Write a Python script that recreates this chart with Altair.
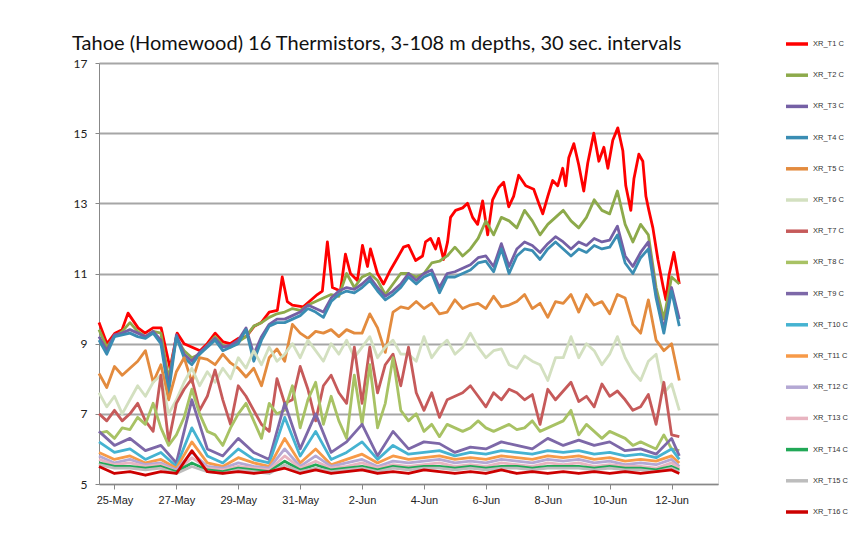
import altair as alt
import pandas as pd

TITLE = "Tahoe (Homewood) 16 Thermistors, 3-108 m depths, 30 sec. intervals"
START = pd.Timestamp("2014-05-24 12:00")

names = [f"XR_T{i} C" for i in range(1, 17)]
colors = ["#FF0000", "#8DAA4B", "#7560A5", "#3A8DB3", "#E38B3E", "#D3E0C0",
          "#C65A5A", "#A8C264", "#7D68A8", "#45B3D1", "#F79A48", "#B4A8D4",
          "#E8B4C0", "#21A857", "#BDBDBD", "#CC0000"]

# ---- T1 (3 m): readings taken at irregular times, hours after 24-May 12:00 ----
T1_hours = [0, 6.2, 12.4, 17.9, 22.5, 30.3, 35.7, 41.9, 48.2, 55.1,
            60.6, 66.0, 72.2, 78.4, 83.9, 90.1, 96.3, 101.7, 108.0, 114.2,
            120.4, 125.8, 132.0, 138.3, 142.1, 146.0, 149.9, 158.4, 169.3, 173.2,
            177.1, 181.0, 187.2, 191.1, 195.0, 200.4, 204.3, 208.2, 210.5, 215.9,
            220.6, 226.0, 231.5, 236.1, 240.0, 245.5, 250.9, 253.2, 257.1, 261.0,
            263.3, 267.2, 270.3, 272.6, 276.5, 282.0, 285.8, 289.7, 293.6, 297.5,
            301.4, 305.2, 309.9, 313.8, 317.7, 321.5, 325.4, 330.9, 337.1, 341.0,
            344.1, 348.0, 351.8, 355.7, 359.6, 361.9, 364.3, 368.2, 372.0, 375.9,
            379.0, 383.7, 387.6, 391.5, 394.6, 398.4, 402.3, 406.2, 408.5, 412.4,
            414.8, 418.6, 421.7, 424.1, 426.4, 429.5, 433.4, 437.3, 439.6, 442.0,
            445.8, 450.0]
T1 = [9.6, 9.0, 9.3, 9.4, 9.87, 9.45, 9.3, 9.45, 9.45, 8.3,
      9.3, 9.0, 8.9, 8.8, 9.0, 9.3, 9.05, 9.0, 9.15, 9.2,
      9.5, 9.6, 9.9, 9.95, 10.9, 10.2, 10.1, 10.05, 10.4, 10.5,
      11.9, 10.6, 10.5, 11.55, 11.0, 10.8, 11.8, 11.2, 11.7, 11.0,
      10.7, 11.1, 11.45, 11.75, 11.8, 11.37, 11.5, 11.9, 12.0, 11.7,
      12.0, 11.4, 11.9, 12.6, 12.8, 12.87, 13.0, 12.6, 12.4, 13.07,
      12.1, 13.1, 13.45, 13.6, 12.9, 13.2, 13.8, 13.5, 13.4, 13.0,
      12.7, 13.2, 13.65, 13.5, 14.0, 13.5, 14.3, 14.7, 14.1, 13.35,
      14.15, 15.0, 14.2, 14.6, 14.0, 14.8, 15.15, 14.5, 13.5, 12.8,
      13.7, 14.4, 14.2, 13.2, 12.8, 12.3, 11.4, 10.65, 10.25, 10.95,
      11.6, 10.7]

# ---- T2-T8: one reading every 6 h ----
T2 = [9.4, 8.9, 9.2, 9.35, 9.6, 9.35, 9.2, 9.35, 9.3, 8.0,
      9.15, 8.8, 8.6, 8.7, 8.95, 9.2, 8.95, 8.9, 9.05, 9.2,
      9.5, 9.6, 9.75, 9.85, 9.9, 10.0, 9.95, 10.1, 10.2, 10.3,
      10.4, 10.35, 11.0, 10.6, 10.9, 11.0, 10.8, 10.4, 10.7, 11.0,
      11.0, 10.9, 11.0, 11.3, 11.35, 11.5, 11.75, 11.5, 11.7, 12.0,
      12.5, 12.1, 12.6, 12.5, 12.3, 12.8, 12.5, 12.1, 12.4, 12.6,
      12.8, 12.5, 12.3, 12.6, 13.1, 12.8, 12.7, 13.35, 12.4, 11.9,
      12.4, 12.1, 10.6, 9.7, 10.9, 10.7]
T3 = [9.2, 8.8, 9.25, 9.3, 9.4, 9.3, 9.2, 9.35, 9.1, 7.8,
      9.25, 8.7, 8.5, 8.75, 8.95, 9.15, 8.9, 8.95, 9.1, 9.45,
      8.7, 9.2, 9.55, 9.7, 9.7, 9.8, 9.9, 10.1, 10.0, 9.9,
      10.3, 10.5, 10.6, 10.55, 10.7, 10.9, 10.6, 10.35, 10.5, 10.7,
      11.0, 10.8, 11.0, 11.1, 10.6, 11.0, 11.05, 11.15, 11.25, 11.45,
      11.5, 11.2, 11.85, 11.2, 11.7, 11.9, 11.8, 11.6, 11.85, 12.05,
      11.9, 11.7, 11.9, 11.8, 12.0, 11.9, 11.95, 12.35, 11.5, 11.2,
      11.6, 11.9, 10.4, 9.4, 10.6, 9.7]
T4 = [9.1, 8.7, 9.2, 9.25, 9.3, 9.2, 9.15, 9.3, 9.0, 7.6,
      9.2, 8.6, 8.4, 8.7, 8.9, 9.1, 8.8, 8.9, 9.0, 9.4,
      8.5, 9.1, 9.5, 9.6, 9.6, 9.7, 9.8, 10.0, 9.9, 9.75,
      10.2, 10.4, 10.5, 10.45, 10.6, 10.8, 10.5, 10.25, 10.4, 10.6,
      10.9, 10.7, 10.9, 11.0, 10.45, 10.9, 10.9, 11.0, 11.1, 11.3,
      11.35, 11.05, 11.7, 11.0, 11.5, 11.7, 11.65, 11.4, 11.7, 11.9,
      11.7, 11.5, 11.7, 11.6, 11.8, 11.7, 11.75, 12.1, 11.3, 11.0,
      11.45, 11.7, 10.3, 9.3, 10.5, 9.5]
T5 = [8.15, 7.75, 8.35, 8.1, 8.3, 8.5, 8.8, 7.9, 8.4, 7.4,
      8.2, 8.6, 7.9, 8.6, 8.55, 8.4, 8.7, 8.45, 8.3, 8.05,
      8.3, 7.8, 8.6, 8.85, 8.5, 9.55, 9.3, 9.15, 9.35, 9.3,
      9.4, 9.2, 9.4, 9.3, 9.3, 9.85, 9.45, 8.75, 9.9, 10.05,
      10.0, 10.2, 10.0, 10.15, 9.85, 9.9, 10.25, 10.0, 10.1, 10.15,
      10.0, 10.35, 10.05, 10.1, 10.2, 10.4, 10.0, 10.15, 9.75, 10.2,
      10.15, 10.4, 9.9, 10.4, 10.1, 10.2, 9.85, 10.4, 10.3, 9.55,
      9.3, 10.25, 9.1, 8.8, 9.0, 7.95]
T6 = [7.6, 7.2, 7.5, 7.0, 7.4, 7.8, 7.5, 7.9, 8.1, 7.0,
      7.4, 7.9, 8.3, 7.8, 8.2, 7.9, 8.3, 8.0, 8.6, 8.3,
      8.8, 8.4, 8.9, 8.5, 8.7, 9.0, 8.6, 9.1, 8.8, 8.5,
      9.0, 8.7, 9.1, 8.6, 8.9, 9.2, 8.6, 8.9, 9.1, 8.7,
      8.7, 8.5, 9.2, 8.6, 8.9, 9.1, 8.7, 8.9, 9.3, 8.9,
      8.6, 8.8, 8.85, 8.4, 8.3, 8.65, 8.5, 8.4, 7.95, 8.6,
      8.6, 9.2, 8.6, 9.0, 8.8, 8.4, 8.7, 9.2, 8.6, 8.2,
      7.95, 8.5, 8.7, 7.6, 7.85, 7.1]
T7 = [7.0, 6.8, 7.1, 6.8, 7.0, 7.3, 6.8, 6.5, 8.1, 6.2,
      7.3, 7.7, 8.0, 7.1, 7.5, 8.25, 7.4, 6.7, 7.8, 7.5,
      7.1, 6.7, 6.5, 8.0, 7.3, 7.4, 8.35, 7.7, 6.8, 7.8,
      8.1, 7.6, 7.3, 8.9, 7.3, 8.9, 7.6, 8.4, 8.7, 7.8,
      8.9, 7.6, 7.1, 7.6, 6.9, 7.4, 7.5, 7.6, 7.8, 7.5,
      7.2, 7.6, 7.4, 7.7, 7.6, 7.4, 7.55, 6.7, 7.7, 7.4,
      7.65, 7.9, 7.35, 7.5, 7.2, 7.85, 7.5, 7.65, 7.4, 7.1,
      7.2, 7.55, 6.7, 7.9, 6.4, 6.35]
T8 = [6.45, 6.5, 6.3, 6.6, 6.55, 6.9, 6.7, 7.3, 6.6, 6.1,
      6.4, 6.9, 7.7, 7.0, 6.5, 6.4, 6.1, 6.6, 7.0, 7.3,
      6.8, 6.3, 7.3, 7.0, 7.1, 7.8, 6.6, 7.4, 7.9, 6.7,
      7.5, 6.8, 6.3, 8.1, 6.7, 8.4, 6.6, 7.3, 8.6, 7.1,
      6.8, 7.0, 6.5, 6.7, 6.35, 6.7, 6.6, 6.5, 6.6, 6.8,
      6.6, 6.5, 6.6, 6.7, 6.55, 6.6, 6.8, 6.5, 6.6, 6.7,
      6.8, 7.1, 6.4, 6.7, 6.5, 6.3, 6.5, 6.4, 6.3, 6.1,
      6.2, 6.1, 6.0, 6.4, 6.0, 5.95]

# ---- deep series (one reading every 12 h, last one at the end of record) ----
T9 = [6.5, 6.1, 6.3, 5.95, 6.1, 5.6, 7.4, 6.0, 5.8, 6.3,
      5.9, 5.7, 7.3, 6.0, 7.0, 5.9, 6.2, 6.7, 5.8, 6.5,
      6.0, 6.2, 6.15, 5.9, 6.05, 6.0, 6.2, 6.1, 6.0, 6.3,
      6.1, 6.25, 6.1, 6.2, 5.95, 6.0, 5.85, 6.3, 5.8]
T10 = [6.2, 5.9, 6.0, 5.7, 5.9, 5.5, 6.6, 5.8, 5.6, 6.0,
       5.7, 5.6, 6.9, 5.8, 6.5, 5.7, 5.9, 6.2, 5.7, 6.1,
       5.85, 5.9, 5.95, 5.8, 5.9, 5.85, 5.95, 5.9, 5.85, 5.95,
       5.9, 5.95, 5.85, 5.9, 5.8, 5.85, 5.75, 6.0, 5.7]
T11 = [5.9, 5.7, 5.8, 5.6, 5.7, 5.45, 6.2, 5.6, 5.5, 5.75,
       5.6, 5.5, 6.3, 5.6, 6.0, 5.55, 5.7, 5.85, 5.6, 5.8,
       5.7, 5.75, 5.8, 5.7, 5.75, 5.7, 5.8, 5.75, 5.7, 5.8,
       5.75, 5.8, 5.7, 5.75, 5.65, 5.7, 5.65, 5.8, 5.6]
T12 = [5.8, 5.6, 5.7, 5.55, 5.6, 5.4, 5.9, 5.5, 5.45, 5.6,
       5.5, 5.45, 6.0, 5.5, 5.8, 5.5, 5.6, 5.7, 5.5, 5.65,
       5.6, 5.65, 5.7, 5.6, 5.65, 5.6, 5.7, 5.65, 5.6, 5.7,
       5.65, 5.7, 5.6, 5.65, 5.55, 5.6, 5.55, 5.7, 5.5]
T13 = [5.7, 5.55, 5.6, 5.5, 5.55, 5.35, 5.75, 5.45, 5.4, 5.5,
       5.45, 5.4, 5.8, 5.45, 5.65, 5.45, 5.5, 5.6, 5.45, 5.55,
       5.5, 5.55, 5.6, 5.5, 5.55, 5.5, 5.6, 5.55, 5.5, 5.6,
       5.55, 5.6, 5.5, 5.55, 5.5, 5.5, 5.45, 5.6, 5.45]
T14 = [5.6, 5.5, 5.5, 5.45, 5.5, 5.35, 5.6, 5.4, 5.35, 5.45,
       5.4, 5.35, 5.65, 5.4, 5.55, 5.4, 5.45, 5.5, 5.4, 5.5,
       5.45, 5.5, 5.5, 5.45, 5.5, 5.45, 5.5, 5.5, 5.45, 5.5,
       5.5, 5.5, 5.45, 5.5, 5.45, 5.45, 5.4, 5.5, 5.4]
T15 = [5.55, 5.45, 5.45, 5.4, 5.45, 5.3, 5.5, 5.35, 5.3, 5.4,
       5.35, 5.3, 5.55, 5.35, 5.45, 5.35, 5.4, 5.45, 5.35, 5.45,
       5.4, 5.45, 5.45, 5.4, 5.45, 5.4, 5.45, 5.45, 5.4, 5.45,
       5.45, 5.45, 5.4, 5.45, 5.4, 5.4, 5.35, 5.45, 5.35]
T16 = [5.5, 5.3, 5.35, 5.25, 5.35, 5.3, 5.95, 5.35, 5.3, 5.35,
       5.3, 5.35, 5.45, 5.3, 5.4, 5.3, 5.35, 5.4, 5.3, 5.35,
       5.3, 5.4, 5.35, 5.3, 5.35, 5.3, 5.4, 5.3, 5.35, 5.3,
       5.35, 5.3, 5.35, 5.3, 5.35, 5.3, 5.35, 5.4, 5.3]

t1_times = [START + pd.Timedelta(hours=h) for h in T1_hours]
fine_times = [START + pd.Timedelta(hours=6 * i) for i in range(len(T2))]
coarse_times = [START + pd.Timedelta(hours=12 * i) for i in range(len(T9) - 1)] + [fine_times[-1]]

series = [T1, T2, T3, T4, T5, T6, T7, T8, T9, T10, T11, T12, T13, T14, T15, T16]
rows = []
for k, (name, vals) in enumerate(zip(names, series)):
    times = t1_times if k == 0 else (fine_times if k < 8 else coarse_times)
    for t, v in zip(times, vals):
        rows.append({"time": t.strftime("%Y-%m-%dT%H:%M:%S"), "temp": v, "series": name, "k": k})
df = pd.DataFrame(rows)

tick_dates = [alt.DateTime(year=2014, month=5, date=d) for d in (25, 27, 29, 31)] + \
             [alt.DateTime(year=2014, month=6, date=d) for d in (2, 4, 6, 8, 10, 12)]

x = alt.X("time:T",
          scale=alt.Scale(domain=[alt.DateTime(year=2014, month=5, date=24, hours=12),
                                  alt.DateTime(year=2014, month=6, date=13, hours=12)]),
          axis=alt.Axis(values=tick_dates, format="%-d-%b", title=None, grid=False,
                        labelFont="Liberation Sans", labelFontSize=11, labelColor="#222",
                        domainColor="#888", tickColor="#888", tickSize=5, labelPadding=5,
                        labelFlush=False))
y = alt.Y("temp:Q",
          scale=alt.Scale(domain=[5, 17], nice=False),
          axis=alt.Axis(values=[5, 7, 9, 11, 13, 15, 17], title=None, grid=True,
                        gridColor="#A6A6A6", gridWidth=2, domainColor="#888",
                        tickColor="#888", tickSize=4, labelPadding=8,
                        labelFont="Lato", labelFontSize=12, labelColor="#222"))

chart = alt.Chart(df).mark_line(strokeWidth=2.8, strokeJoin="round").encode(
    x=x, y=y,
    color=alt.Color("series:N",
                    scale=alt.Scale(domain=names, range=colors),
                    legend=alt.Legend(title=None, orient="none", legendX=685, legendY=-32,
                                      symbolType="stroke", symbolStrokeWidth=3.5, symbolSize=484,
                                      labelFont="Liberation Sans", labelFontSize=7.5,
                                      labelColor="#333", rowPadding=11.2, labelOffset=3)),
    detail="k:O",
).properties(
    width=619, height=421,
    title=alt.Title(TITLE, anchor="start", frame="group", dx=-27, offset=-23, fontSize=20,
                    font="Lato", fontWeight="normal", color="#111"),
    autosize=alt.AutoSizeParams(type="none"),
    padding={"left": 91, "top": 55, "right": 133, "bottom": 54},
).configure_view(stroke="#222", strokeWidth=1.3).configure(background="white")

chart.save("out.html", embed_options={"renderer": "svg", "actions": False})
